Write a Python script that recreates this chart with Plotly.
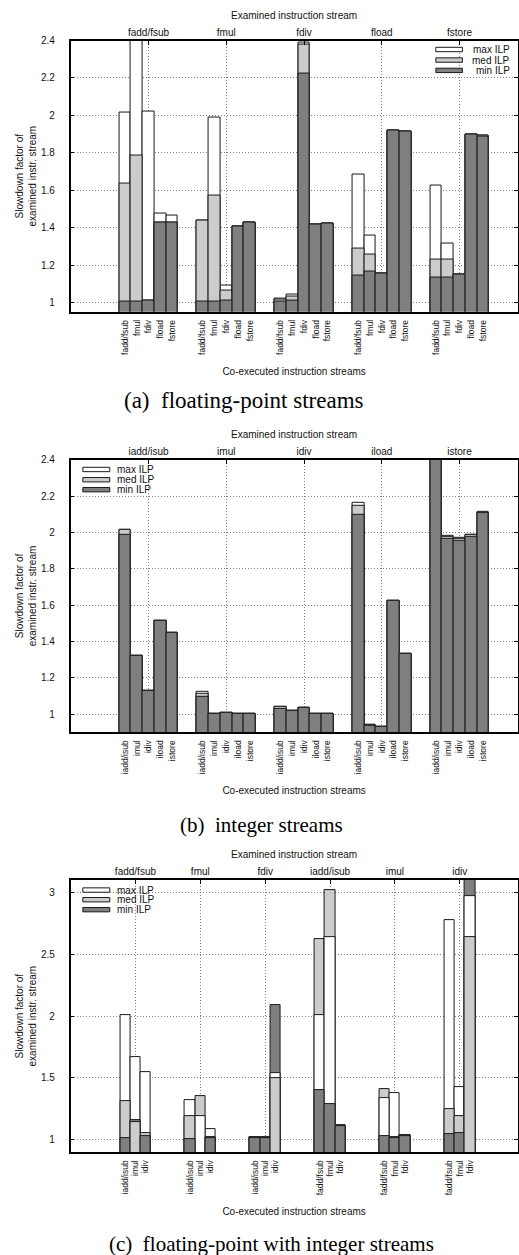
import plotly.graph_objects as go

W, H = 519, 1255

# ---------------- data ----------------
series_names = ["max ILP", "med ILP", "min ILP"]

# (a) floating-point streams
a_examined = ["fadd/fsub", "fmul", "fdiv", "fload", "fstore"]
a_coexec = ["fadd/fsub", "fmul", "fdiv", "fload", "fstore"]
a_max = [[2.015, 2.45, 2.023, 1.475, 1.464],
         [1.436, 1.989, 1.090, 1.406, 1.429],
         [1.020, 1.043, 2.387, 1.415, 1.424],
         [1.686, 1.360, 1.156, 1.920, 1.911],
         [1.626, 1.317, 1.152, 1.900, 1.890]]
a_med = [[1.635, 1.787, 1.013, 1.427, 1.429],
         [1.436, 1.569, 1.064, 1.406, 1.429],
         [1.017, 1.030, 2.376, 1.415, 1.424],
         [1.287, 1.257, 1.156, 1.920, 1.911],
         [1.227, 1.230, 1.152, 1.900, 1.890]]
a_min = [[1.005, 1.005, 1.008, 1.427, 1.429],
         [1.005, 1.005, 1.008, 1.406, 1.429],
         [1.003, 1.010, 2.222, 1.415, 1.424],
         [1.145, 1.168, 1.156, 1.920, 1.911],
         [1.133, 1.133, 1.150, 1.897, 1.887]]

# (b) integer streams
b_examined = ["iadd/isub", "imul", "idiv", "iload", "istore"]
b_coexec = ["iadd/isub", "imul", "idiv", "iload", "istore"]
b_max = [[2.015, 1.322, 1.130, 1.515, 1.450],
         [1.120, 1.002, 1.009, 1.002, 1.002],
         [1.042, 1.020, 1.035, 1.002, 1.002],
         [2.163, 0.943, 0.932, 1.624, 1.331],
         [2.450, 1.981, 1.970, 1.987, 2.113]]
b_med = [[2.012, 1.322, 1.130, 1.515, 1.450],
         [1.110, 1.002, 1.009, 1.002, 1.002],
         [1.040, 1.020, 1.035, 1.002, 1.002],
         [2.144, 0.940, 0.930, 1.624, 1.331],
         [2.450, 1.978, 1.965, 1.985, 2.110]]
b_min = [[1.988, 1.322, 1.130, 1.515, 1.450],
         [1.097, 1.002, 1.009, 1.002, 1.002],
         [1.027, 1.018, 1.033, 1.002, 1.002],
         [2.098, 0.935, 0.928, 1.622, 1.329],
         [2.450, 1.966, 1.955, 1.976, 2.108]]

# (c) floating-point with integer streams
c_examined = ["fadd/fsub", "fmul", "fdiv", "iadd/isub", "imul", "idiv"]
c_coexec = [["iadd/isub", "imul", "idiv"]] * 3 + [["fadd/fsub", "fmul", "fdiv"]] * 3
c_max = [[2.010, 1.666, 1.548],
         [1.319, 1.193, 1.086],
         [1.021, 1.021, 1.540],
         [2.005, 2.640, 1.118],
         [1.336, 1.376, 1.035],
         [2.779, 1.430, 2.973]]
c_med = [[1.317, 1.145, 1.053],
         [1.188, 1.352, 1.024],
         [1.020, 1.018, 1.500],
         [2.626, 3.021, 1.113],
         [1.411, 1.020, 1.035],
         [1.247, 1.188, 2.640]]
c_min = [[1.013, 1.157, 1.027],
         [1.008, 0.880, 1.012],
         [1.015, 1.012, 2.091],
         [1.403, 1.287, 1.107],
         [1.029, 1.016, 1.033],
         [1.048, 1.053, 3.200]]

captions = ["(a)  floating-point streams", "(b)  integer streams",
            "(c)  floating-point with integer streams"]

# ---------------- style ----------------
fill_colors = ["#ffffff", "#cccccc", "#7f7f7f"]
edge = "#1a1a1a"
txt = "#111111"
sans = "Liberation Sans, Arial, sans-serif"
serif = "Liberation Serif, Times New Roman, serif"
grid_col = "#808080"
grid_dash = "1px,2px"


def px_x(x):
    return x / W


def px_y(y):
    return 1 - y / H


panels = [
    dict(ex=a_examined, co=[a_coexec] * 5, vals=(a_max, a_med, a_min), G=6.6,
         xr=[-4.62, 33.33], yr=[0.95, 2.4], dtick=0.2, top=34.7, bot=307.3,
         legend="right", leg_rows=[43.7, 54.3, 64.7], cap_x=244, cap_y=396, cap_size=23),
    dict(ex=b_examined, co=[b_coexec] * 5, vals=(b_max, b_med, b_min), G=6.6,
         xr=[-4.62, 33.33], yr=[0.9, 2.4], dtick=0.2, top=456.0, bot=729.7,
         legend="left", leg_rows=[465.7, 476.0, 486.0], cap_x=262, cap_y=823, cap_size=21),
    dict(ex=c_examined, co=c_coexec, vals=(c_max, c_med, c_min), G=6.34,
         xr=[-5.34, 38.35], yr=[0.9, 3.1], dtick=0.5, top=878.3, bot=1151.7,
         legend="left", leg_rows=[888.3, 898.0, 908.0], cap_x=272, cap_y=1244, cap_size=21),
]

fig = go.Figure()
layout = dict(width=W, height=H, margin=dict(l=0, r=0, t=0, b=0),
              paper_bgcolor="white", plot_bgcolor="white", barmode="overlay",
              showlegend=False, bargap=0, font=dict(family=sans, size=10, color=txt))
shapes, annotations = [], []
xdom = [px_x(70.7), px_x(518.6)]

for i, p in enumerate(panels):
    xb = "x" if i == 0 else f"x{2 * i + 1}"
    xt = f"x{2 * i + 2}"
    yr_ = "y" if i == 0 else f"y{i + 1}"
    xb_key = "xaxis" if i == 0 else f"xaxis{2 * i + 1}"
    xt_key = f"xaxis{2 * i + 2}"
    y_key = "yaxis" if i == 0 else f"yaxis{i + 1}"

    xs, labels, centers = [], [], []
    bars = []  # list of (x, [(value, series)])
    for g, name in enumerate(p["ex"]):
        co = p["co"][g]
        for b, lab in enumerate(co):
            x = g * p["G"] + b
            xs.append(x)
            labels.append(lab)
            vs = [(p["vals"][s][g][b], s) for s in range(3)]
            vs.sort(key=lambda t: (-t[0], t[1]))
            bars.append((x, vs))
        centers.append(g * p["G"] + (len(co) - 1) / 2)

    for r in range(3):
        fig.add_trace(go.Bar(
            x=[bx for bx, _ in bars], y=[vs[r][0] for _, vs in bars],
            width=1.0, xaxis=xb, yaxis=yr_,
            marker=dict(color=[fill_colors[vs[r][1]] for _, vs in bars],
                        line=dict(color=edge, width=1)),
            name="rank %d" % r, hovertext=[series_names[vs[r][1]] for _, vs in bars],
            showlegend=False))
    # invisible trace to anchor the top axis subplot
    fig.add_trace(go.Scatter(x=[None], y=[None], xaxis=xt, yaxis=yr_,
                             showlegend=False, hoverinfo="skip"))

    ydom = [px_y(p["bot"]), px_y(p["top"])]
    tickvals_y = []
    v = 1.0
    while v <= p["yr"][1] + 1e-9:
        tickvals_y.append(round(v, 3))
        v += p["dtick"]

    layout[xb_key] = dict(
        domain=xdom, anchor=yr_, range=p["xr"], tickvals=xs, ticktext=labels,
        tickangle=-90, ticks="", showgrid=False, zeroline=False,
        showline=True, linecolor="black", linewidth=1.5, mirror=True,
        tickfont=dict(size=8.5, family=sans, color=txt), ticklabelstandoff=3,
        title=dict(text="Co-executed instruction streams", standoff=14,
                   font=dict(size=10, family=sans, color=txt)))
    layout[xt_key] = dict(
        overlaying=xb, anchor=yr_, side="top", range=p["xr"], tickvals=centers,
        ticktext=p["ex"], ticks="inside", ticklen=4, tickcolor="black",
        showgrid=True, gridcolor=grid_col, griddash=grid_dash, gridwidth=1,
        zeroline=False, showline=False, ticklabelstandoff=2,
        tickfont=dict(size=10, family=sans, color=txt),
        title=dict(text="Examined instruction stream", standoff=5,
                   font=dict(size=10, family=sans, color=txt)))
    layout[y_key] = dict(
        domain=ydom, anchor=xb, range=p["yr"], tickvals=tickvals_y,
        ticks="inside", ticklen=4, tickcolor="black", mirror="ticks",
        showline=True, linecolor="black", linewidth=1.5,
        showgrid=True, gridcolor=grid_col, griddash=grid_dash, gridwidth=1,
        zeroline=False, ticklabelstandoff=12,
        tickfont=dict(size=10, family=sans, color=txt),
        title=dict(text="Slowdown factor of<br>examined instr. stream", standoff=2,
                   font=dict(size=10, family=sans, color=txt)))

    # legend (drawn as boxes + text)
    for s, yrow in enumerate(p["leg_rows"]):
        if p["legend"] == "right":
            x0, x1 = 436.7, 463.3
            annotations.append(dict(x=px_x(512.7), y=px_y(yrow), xref="paper", yref="paper",
                                    text=series_names[s], showarrow=False, xanchor="right",
                                    yanchor="middle", font=dict(size=10, family=sans, color=txt)))
        else:
            x0, x1 = 83.0, 110.0
            annotations.append(dict(x=px_x(115.7), y=px_y(yrow), xref="paper", yref="paper",
                                    text=series_names[s], showarrow=False, xanchor="left",
                                    yanchor="middle", font=dict(size=10, family=sans, color=txt)))
        shapes.append(dict(type="rect", xref="paper", yref="paper",
                           x0=px_x(x0), x1=px_x(x1), y0=px_y(yrow + 2.2), y1=px_y(yrow - 2.2),
                           fillcolor=fill_colors[s], line=dict(color=edge, width=1)))

    annotations.append(dict(x=px_x(p["cap_x"]), y=px_y(p["cap_y"]), xref="paper", yref="paper",
                            text=captions[i], showarrow=False, xanchor="center", yanchor="middle",
                            font=dict(size=p["cap_size"], family=serif, color="black")))

layout["shapes"] = shapes
layout["annotations"] = annotations
fig.update_layout(**layout)
fig.write_html("out.html")
